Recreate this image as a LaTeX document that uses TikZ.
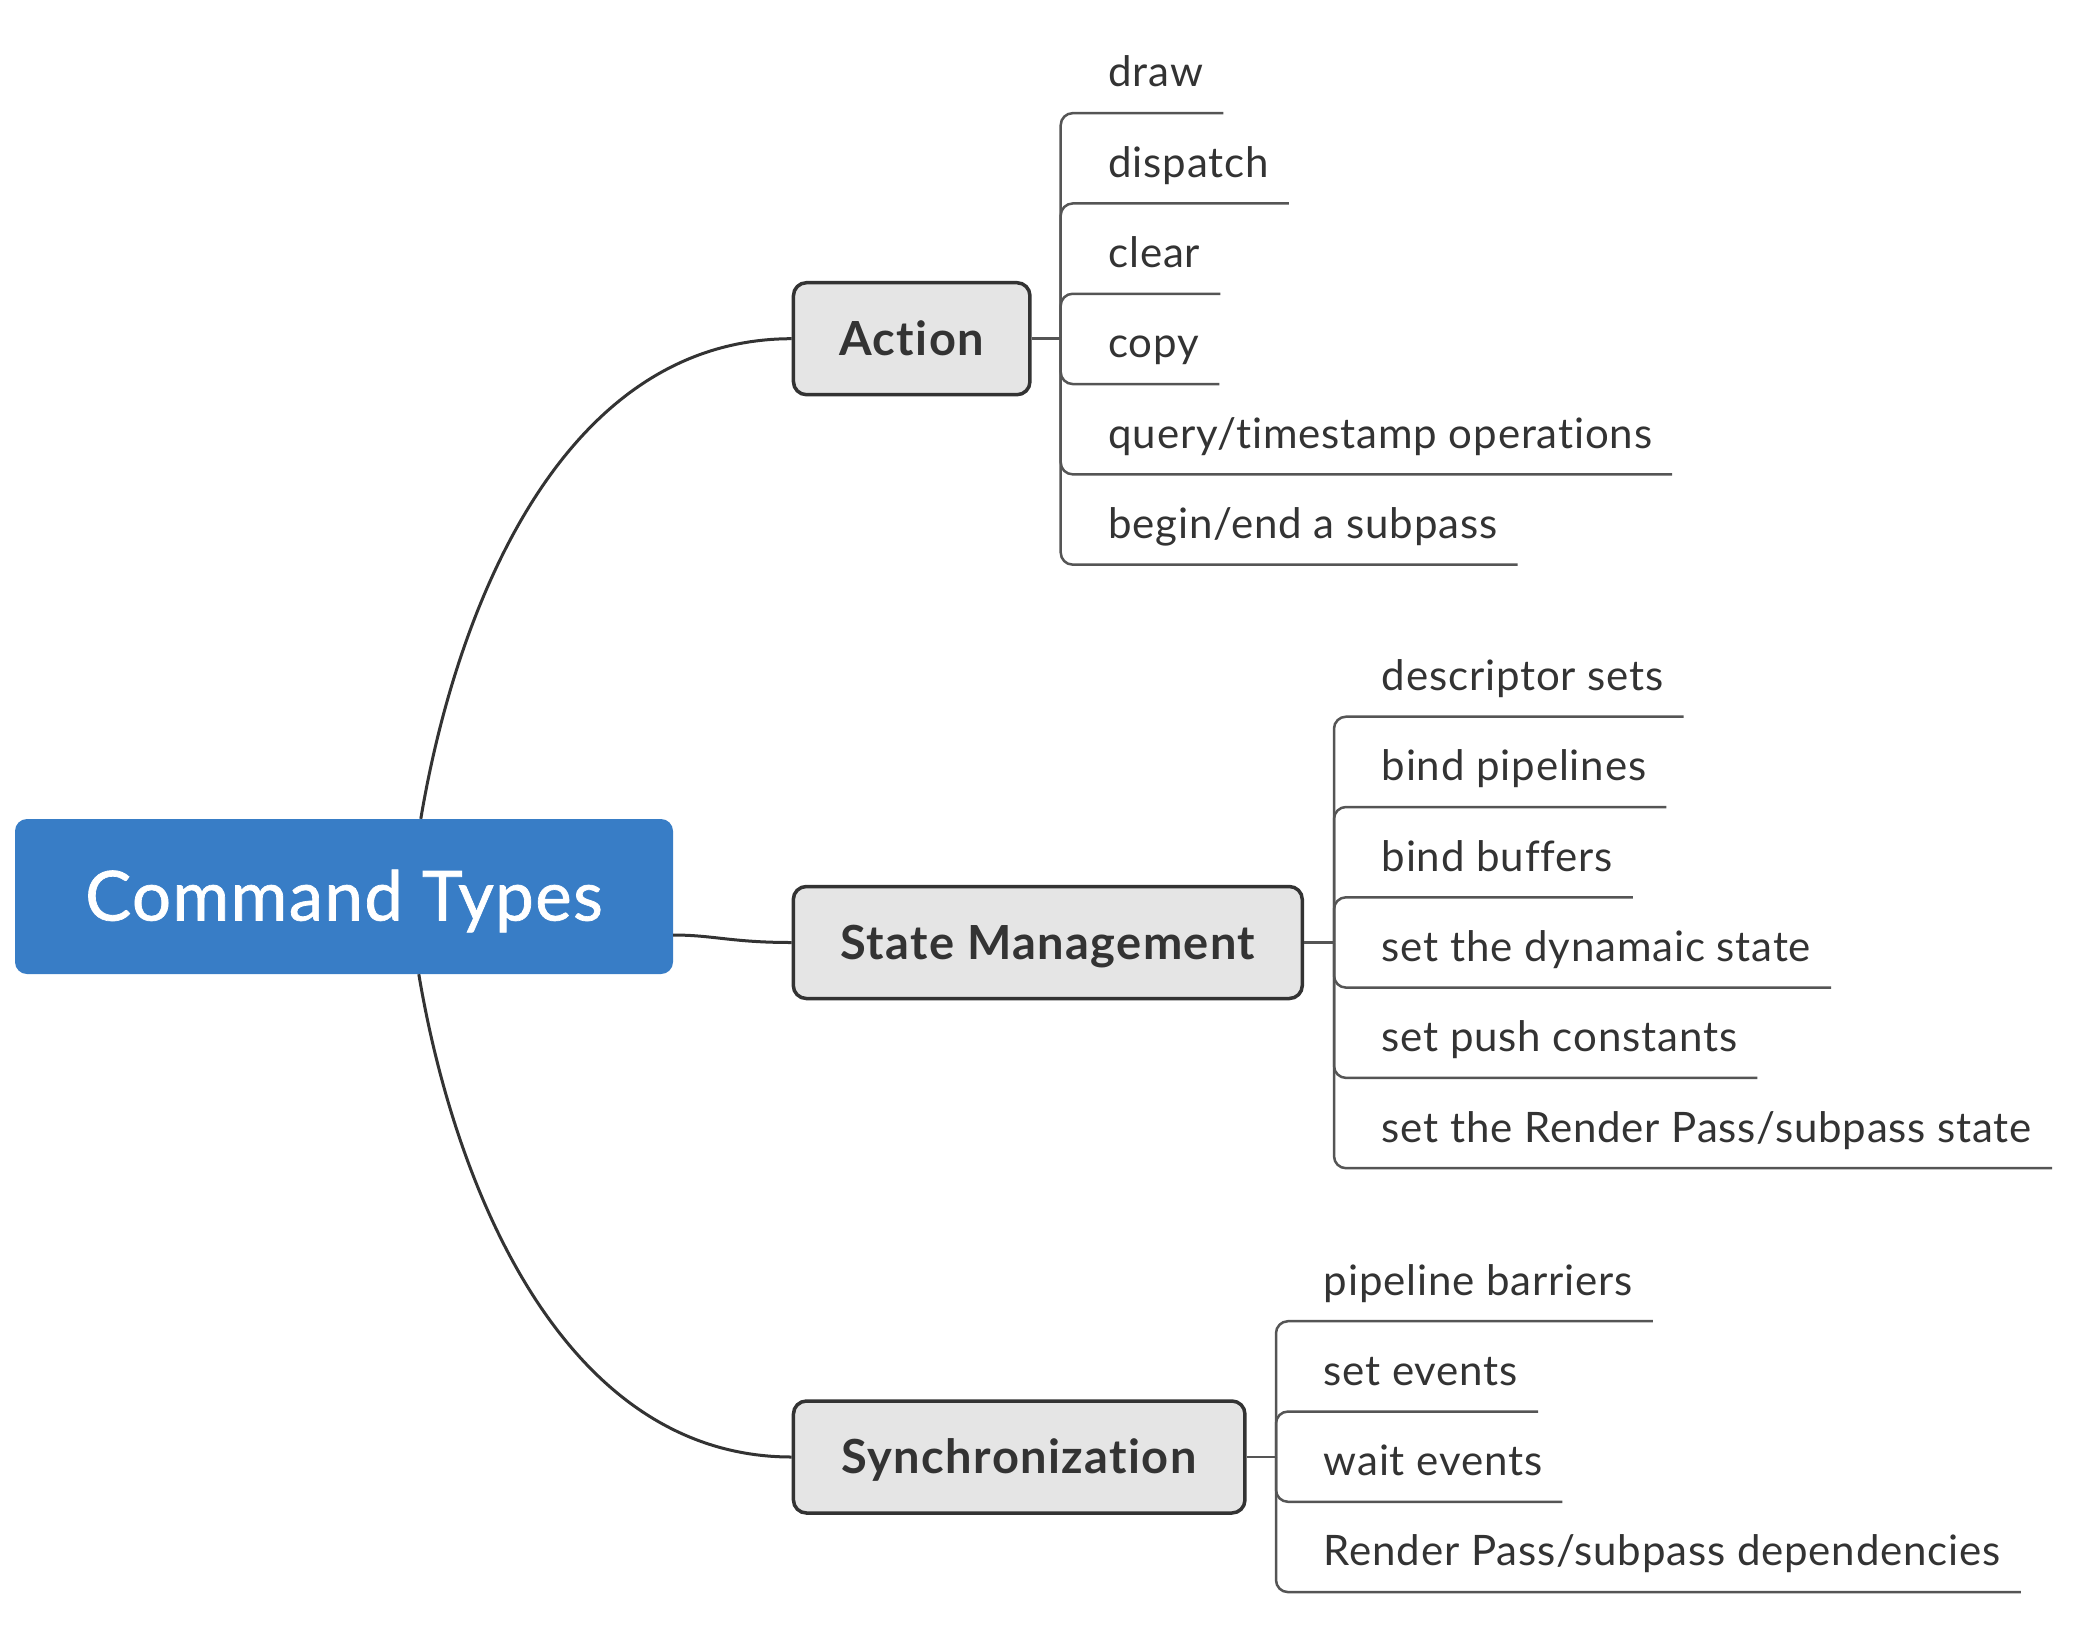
\documentclass[tikz,border=0pt]{standalone}
\usepackage{fontspec}
\setmainfont[Ligatures=NoCommon]{Lato}
\newfontfamily\leaffont[LetterSpace=2,Ligatures=NoCommon]{Lato}
\newfontfamily\boxfont[LetterSpace=3,Ligatures=NoCommon]{Lato}
\newfontfamily\rootfont[LetterSpace=2,FakeBold=1,Ligatures=NoCommon]{Lato}
\usetikzlibrary{calc}
\definecolor{rootblue}{RGB}{56,125,198}
\definecolor{boxfill}{RGB}{229,229,229}
\definecolor{ink}{RGB}{51,51,51}
\definecolor{branchgray}{RGB}{85,85,85}
\tikzset{
 rootbox/.style={fill=rootblue, rounded corners=12pt, text=white,
   font=\rootfont\fontsize{69}{72}\selectfont, minimum width=658pt, minimum height=155pt,
   inner sep=0pt, text height=48pt, text depth=0pt},
 catbox/.style={draw=ink, line width=3.5pt, fill=boxfill, rounded corners=13pt, text=ink,
   font=\boxfont\bfseries\fontsize{47}{52}\selectfont, minimum height=112pt, inner sep=0pt,
   text height=33pt, text depth=0pt},
 leaf/.style={anchor=base west, text=ink, font=\leaffont\fontsize{42}{46}\selectfont,
   inner xsep=20pt, inner ysep=0pt, text depth=26pt, text height=30pt},
 curve/.style={draw=ink, line width=3pt},
 branch/.style={draw=branchgray, line width=2.5pt, rounded corners=12pt},
}
\begin{document}
\begin{tikzpicture}[x=1pt,y=-1pt]
\useasboundingbox (0,0) rectangle (2096,1628);
% main nodes
\node[rootbox] (root) at (344,896.5) {Command Types};
\node[catbox, minimum width=236.5pt] (action) at (911.7,338.7) {Action};
\node[catbox, minimum width=509pt] (state) at (1047.8,942.5) {State Management};
\node[catbox, minimum width=451.5pt] (sync) at (1019.2,1457) {Synchronization};
% curves from root
\coordinate (topstart) at ($(root.north west)+(406,0)$);
\coordinate (botstart) at ($(root.south west)+(404,0)$);
\coordinate (midstart) at ($(root.east)+(0,38.5)$);
\draw[curve] (topstart) .. controls +(36,-214) and +(-228,0) .. (action.west);
\draw[curve] (botstart) .. controls +(36,214) and +(-228,0) .. (sync.west);
\draw[curve] (midstart) .. controls +(40,0) and +(-60,0) .. (state.west);
% Action leaves
\node[leaf] (a1) at (1088.2,86.95) {draw};
\node[leaf] (a2) at (1088.2,177.25) {dispatch};
\node[leaf] (a3) at (1088.2,267.55) {clear};
\node[leaf] (a4) at (1088.2,357.85) {copy};
\node[leaf] (a5) at (1088.2,448.15) {query/timestamp operations};
\node[leaf] (a6) at (1088.2,538.45) {begin/end a subpass};
\coordinate (aj) at (1060.7,338.7);
\draw[branch] (action.east) -- (aj);
\foreach \n in {a1,a2,a3,a4,a5,a6} \draw[branch] (aj) |- (\n.south east);
% State Management leaves
\node[leaf] (s1) at (1361.5,690.5) {descriptor sets};
\node[leaf] (s2) at (1361.5,780.8) {bind pipelines};
\node[leaf] (s3) at (1361.5,871.1) {bind buffers};
\node[leaf] (s4) at (1361.5,961.4) {set the dynamaic state};
\node[leaf] (s5) at (1361.5,1051.7) {set push constants};
\node[leaf] (s6) at (1361.5,1142) {set the Render Pass/subpass state};
\coordinate (sj) at (1334,942.5);
\draw[branch] (state.east) -- (sj);
\foreach \n in {s1,s2,s3,s4,s5,s6} \draw[branch] (sj) |- (\n.south east);
% Synchronization leaves
\node[leaf] (y1) at (1303.5,1295) {pipeline barriers};
\node[leaf] (y2) at (1303.5,1385.3) {set events};
\node[leaf] (y3) at (1303.5,1475.6) {wait events};
\node[leaf] (y4) at (1303.5,1565.9) {Render Pass/subpass dependencies};
\coordinate (yj) at (1276,1457);
\draw[branch] (sync.east) -- (yj);
\foreach \n in {y1,y2,y3,y4} \draw[branch] (yj) |- (\n.south east);
\end{tikzpicture}
\end{document}
